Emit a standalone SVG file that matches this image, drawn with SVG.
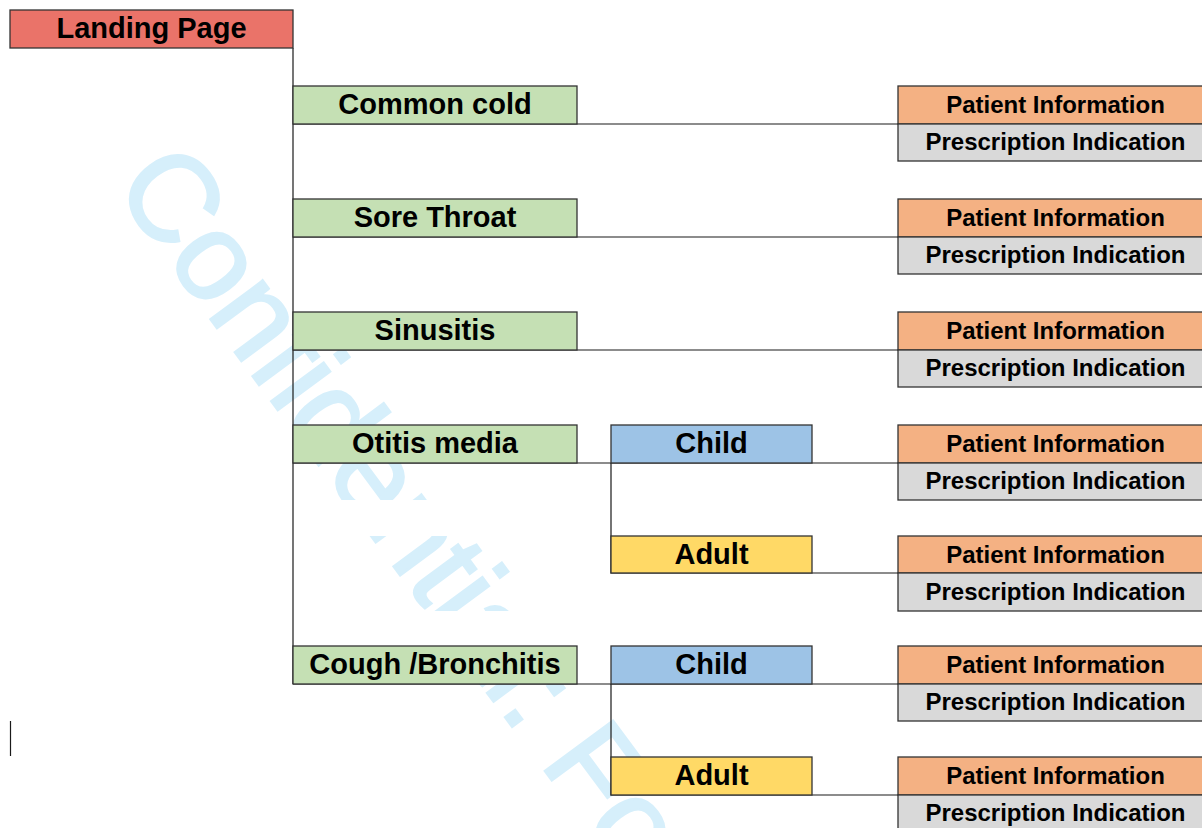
<svg xmlns="http://www.w3.org/2000/svg" width="1202" height="828" viewBox="0 0 1202 828">
<style>
.box{stroke:#333;stroke-width:1.3}
.lp{fill:#ea7369}
.gr{fill:#c5e0b4}
.bl{fill:#9dc3e6}
.ye{fill:#ffd966}
.or{fill:#f4b183}
.gy{fill:#d9d9d9}
.t{font-family:"Liberation Sans",Arial,sans-serif;font-weight:bold;font-size:29px;fill:#000;text-anchor:middle}
.s{font-family:"Liberation Sans",Arial,sans-serif;font-weight:bold;font-size:24px;fill:#000;text-anchor:middle}
.wm{font-family:"Liberation Sans",Arial,sans-serif;font-size:123px;fill:#d6effb;stroke:#d6effb;stroke-width:2.5}
.ln{stroke:#1a1a1a;stroke-width:1.2;fill:none}
</style>
<rect width="1202" height="828" fill="#fff"/>
<g id="watermark">
<text class="wm" transform="translate(112,186) rotate(53.5)">Confidential: For</text>
<rect x="0" y="500" width="611" height="36" fill="#fff"/>
<rect x="0" y="611" width="611" height="35" fill="#fff"/>
</g>
<g id="connectors">
<path class="ln" d="M293 48V684"/>
<path class="ln" d="M293 124H898M293 237H898M293 350H898"/>
<path class="ln" d="M293 463H898M611 463V573H898"/>
<path class="ln" d="M293 684H898M611 684V795H898"/>
<path class="ln" d="M10.5 721V756"/>
</g>
<g id="landing"><rect class="box lp" x="10" y="10" width="283" height="38"/><text class="t" x="151.5" y="38">Landing Page</text></g>
<g id="common-cold"><rect class="box gr" x="293" y="86" width="284" height="38"/><text class="t" x="435" y="114">Common cold</text></g>
<g id="sore-throat"><rect class="box gr" x="293" y="199" width="284" height="38"/><text class="t" x="435" y="227">Sore Throat</text></g>
<g id="sinusitis"><rect class="box gr" x="293" y="312" width="284" height="38"/><text class="t" x="435" y="340">Sinusitis</text></g>
<g id="otitis"><rect class="box gr" x="293" y="425" width="284" height="38"/><text class="t" x="435" y="453">Otitis media</text></g>
<g id="cough"><rect class="box gr" x="293" y="646" width="284" height="38"/><text class="t" x="435" y="674">Cough /Bronchitis</text></g>
<g id="otitis-child"><rect class="box bl" x="611" y="425" width="201" height="38"/><text class="t" x="711.5" y="453">Child</text></g>
<g id="otitis-adult"><rect class="box ye" x="611" y="536" width="201" height="37"/><text class="t" x="711.5" y="564">Adult</text></g>
<g id="cough-child"><rect class="box bl" x="611" y="646" width="201" height="38"/><text class="t" x="711.5" y="674">Child</text></g>
<g id="cough-adult"><rect class="box ye" x="611" y="757" width="201" height="38"/><text class="t" x="711.5" y="785">Adult</text></g>
<g id="info-1"><rect class="box or" x="898" y="86" width="320" height="38"/><text class="s" x="1055.5" y="113">Patient Information</text><rect class="box gy" x="898" y="124" width="320" height="37"/><text class="s" x="1055.5" y="150">Prescription Indication</text></g>
<g id="info-2"><rect class="box or" x="898" y="199" width="320" height="38"/><text class="s" x="1055.5" y="226">Patient Information</text><rect class="box gy" x="898" y="237" width="320" height="37"/><text class="s" x="1055.5" y="263">Prescription Indication</text></g>
<g id="info-3"><rect class="box or" x="898" y="312" width="320" height="38"/><text class="s" x="1055.5" y="339">Patient Information</text><rect class="box gy" x="898" y="350" width="320" height="37"/><text class="s" x="1055.5" y="376">Prescription Indication</text></g>
<g id="info-4"><rect class="box or" x="898" y="425" width="320" height="38"/><text class="s" x="1055.5" y="452">Patient Information</text><rect class="box gy" x="898" y="463" width="320" height="37"/><text class="s" x="1055.5" y="489">Prescription Indication</text></g>
<g id="info-5"><rect class="box or" x="898" y="536" width="320" height="37"/><text class="s" x="1055.5" y="563">Patient Information</text><rect class="box gy" x="898" y="573" width="320" height="38"/><text class="s" x="1055.5" y="600">Prescription Indication</text></g>
<g id="info-6"><rect class="box or" x="898" y="646" width="320" height="38"/><text class="s" x="1055.5" y="673">Patient Information</text><rect class="box gy" x="898" y="684" width="320" height="37"/><text class="s" x="1055.5" y="710">Prescription Indication</text></g>
<g id="info-7"><rect class="box or" x="898" y="757" width="320" height="38"/><text class="s" x="1055.5" y="784">Patient Information</text><rect class="box gy" x="898" y="795" width="320" height="40"/><text class="s" x="1055.5" y="821">Prescription Indication</text></g>
</svg>
